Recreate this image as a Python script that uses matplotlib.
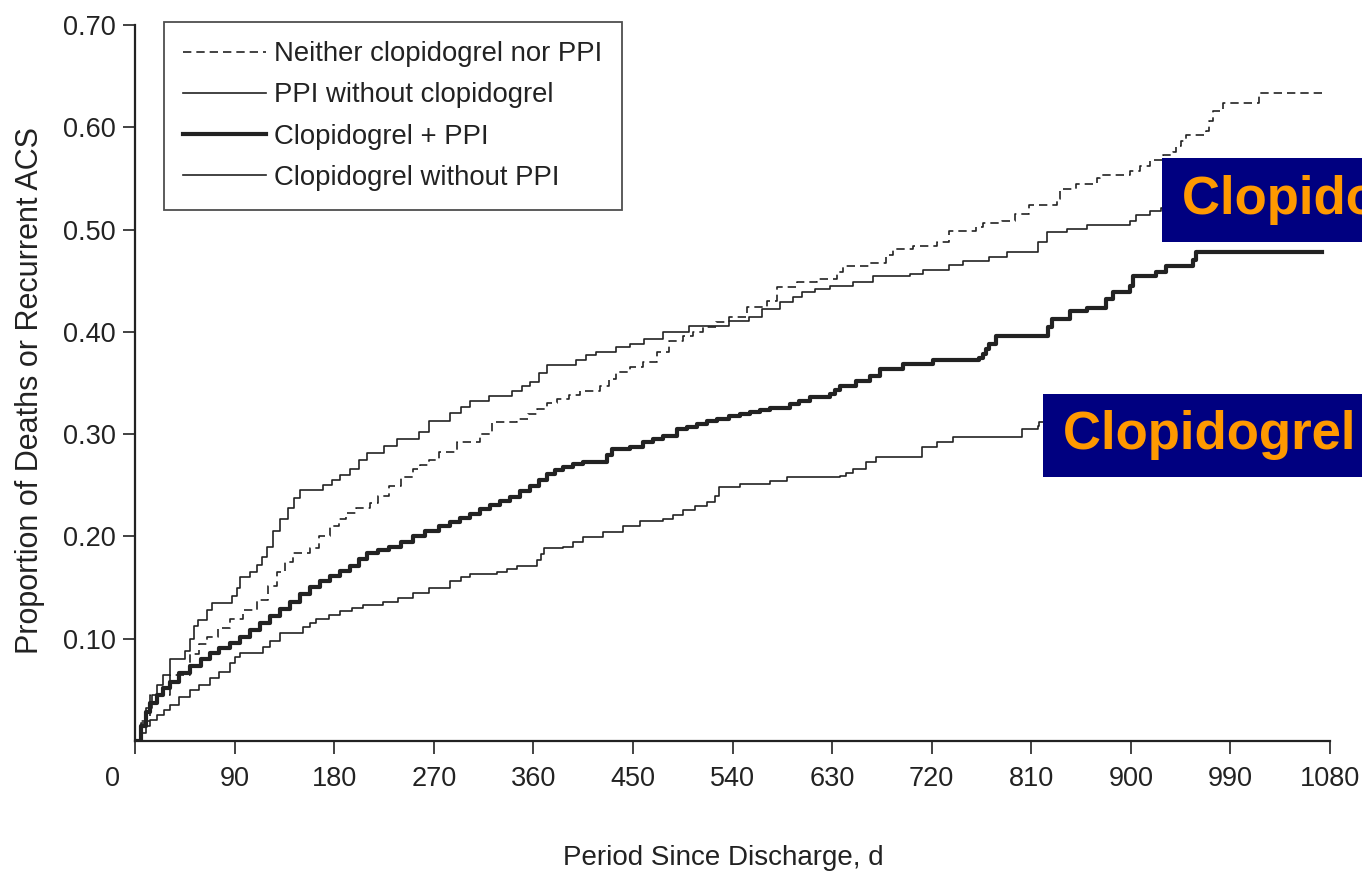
import matplotlib
matplotlib.use("Agg")
import matplotlib.pyplot as plt
from matplotlib.patches import Rectangle
from matplotlib.transforms import ScaledTranslation

# --- data (day, cumulative proportion) ---
neither_days = [0, 5, 14, 32, 50, 58, 65, 75, 86, 98, 110, 120, 128, 136, 143, 158, 166,
                176, 184, 191, 200, 212, 220, 230, 240, 251, 258, 266, 275, 291, 312, 323,
                345, 355, 363, 372, 381, 392, 402, 420, 428, 435, 447, 459, 472, 483, 495,
                504, 513, 525, 537, 553, 571, 580, 598, 616, 634, 640, 664, 679, 685, 703,
                725, 736, 760, 766, 784, 795, 808, 833, 836, 850, 869, 872, 899, 908, 917,
                929, 938, 941, 945, 950, 968, 971, 974, 983, 1016, 1077]
neither_vals = [0, 0.02, 0.045, 0.065, 0.085, 0.095, 0.102, 0.11, 0.119, 0.128, 0.138, 0.152,
                0.165, 0.175, 0.184, 0.189, 0.2, 0.21, 0.217, 0.223, 0.228, 0.233, 0.24, 0.249,
                0.258, 0.266, 0.27, 0.275, 0.283, 0.292, 0.30, 0.312, 0.315, 0.32, 0.325, 0.33,
                0.334, 0.338, 0.342, 0.347, 0.354, 0.361, 0.366, 0.371, 0.38, 0.391, 0.396,
                0.40, 0.405, 0.41, 0.415, 0.424, 0.43, 0.444, 0.449, 0.452, 0.459, 0.464,
                0.467, 0.475, 0.481, 0.484, 0.488, 0.499, 0.503, 0.506, 0.508, 0.515, 0.524,
                0.53, 0.54, 0.545, 0.55, 0.553, 0.557, 0.562, 0.568, 0.573, 0.576, 0.582,
                0.587, 0.592, 0.596, 0.606, 0.616, 0.624, 0.634, 0.634]

ppi_days = [0, 5, 10, 15, 20, 25, 32, 45, 50, 53, 57, 65, 70, 88, 92, 95, 104, 110, 115,
            119, 125, 131, 138, 144, 149, 170, 178, 185, 194, 202, 210, 225, 237, 257, 266,
            285, 295, 303, 320, 341, 350, 357, 365, 372, 399, 408, 417, 435, 447, 460, 477,
            501, 537, 555, 567, 583, 595, 603, 615, 628, 649, 667, 700, 712, 736, 748, 772,
            788, 816, 824, 842, 860, 899, 905, 917, 927, 1000]
ppi_vals = [0, 0.018, 0.032, 0.045, 0.055, 0.065, 0.08, 0.088, 0.10, 0.112, 0.118, 0.128,
            0.135, 0.142, 0.15, 0.16, 0.165, 0.172, 0.18, 0.19, 0.205, 0.217, 0.228, 0.238,
            0.245, 0.25, 0.255, 0.26, 0.266, 0.275, 0.282, 0.288, 0.295, 0.302, 0.313, 0.321,
            0.327, 0.332, 0.337, 0.342, 0.347, 0.351, 0.36, 0.368, 0.372, 0.377, 0.38, 0.385,
            0.388, 0.393, 0.40, 0.406, 0.411, 0.415, 0.422, 0.429, 0.434, 0.439, 0.442,
            0.445, 0.449, 0.455, 0.457, 0.46, 0.465, 0.469, 0.473, 0.478, 0.488, 0.498,
            0.501, 0.504, 0.508, 0.514, 0.518, 0.521, 0.521]

clop_ppi_days = [0, 5, 10, 14, 20, 25, 32, 40, 50, 60, 68, 76, 86, 95, 104, 113, 122, 131,
                 140, 149, 158, 167, 176, 185, 194, 202, 210, 220, 230, 240, 251, 262, 275,
                 285, 294, 303, 312, 321, 330, 339, 348, 357, 365, 372, 380, 387, 396, 405,
                 427, 431, 447, 459, 468, 477, 490, 499, 508, 517, 526, 537, 547, 556, 565,
                 574, 592, 600, 610, 628, 633, 637, 652, 664, 673, 694, 721, 763, 766, 769,
                 772, 778, 825, 829, 845, 860, 878, 884, 899, 902, 923, 932, 956, 959, 1073]
clop_ppi_vals = [0, 0.015, 0.028, 0.037, 0.045, 0.052, 0.058, 0.066, 0.073, 0.08, 0.086,
                 0.091, 0.096, 0.102, 0.109, 0.115, 0.122, 0.129, 0.136, 0.144, 0.151, 0.156,
                 0.161, 0.166, 0.171, 0.178, 0.184, 0.187, 0.19, 0.195, 0.20, 0.205, 0.21,
                 0.214, 0.218, 0.222, 0.227, 0.231, 0.235, 0.239, 0.244, 0.249, 0.255, 0.261,
                 0.265, 0.268, 0.271, 0.273, 0.28, 0.285, 0.287, 0.292, 0.295, 0.298, 0.305,
                 0.307, 0.31, 0.313, 0.315, 0.318, 0.32, 0.322, 0.324, 0.326, 0.329, 0.332,
                 0.336, 0.339, 0.343, 0.347, 0.352, 0.357, 0.364, 0.369, 0.372, 0.374, 0.378,
                 0.383, 0.388, 0.396, 0.405, 0.413, 0.42, 0.423, 0.432, 0.439, 0.445, 0.455,
                 0.459, 0.464, 0.47, 0.478, 0.478]

clop_days = [0, 5, 10, 14, 20, 26, 32, 40, 50, 58, 68, 76, 86, 90, 95, 116, 122, 131, 152,
             158, 164, 175, 185, 196, 206, 224, 238, 251, 266, 285, 295, 303, 327, 336, 345,
             363, 367, 370, 387, 396, 405, 423, 441, 456, 477, 486, 495, 506, 517, 524, 528,
             547, 574, 589, 637, 643, 649, 661, 670, 706, 711, 725, 739, 802, 816, 817, 900]
clop_vals = [0, 0.008, 0.015, 0.021, 0.025, 0.03, 0.035, 0.043, 0.05, 0.055, 0.062, 0.067,
             0.076, 0.082, 0.086, 0.092, 0.098, 0.106, 0.111, 0.115, 0.119, 0.123, 0.127,
             0.13, 0.133, 0.136, 0.14, 0.145, 0.15, 0.156, 0.16, 0.163, 0.165, 0.168, 0.171,
             0.177, 0.183, 0.189, 0.19, 0.195, 0.199, 0.204, 0.21, 0.215, 0.217, 0.221,
             0.226, 0.23, 0.234, 0.24, 0.248, 0.251, 0.254, 0.258, 0.259, 0.262, 0.266,
             0.273, 0.278, 0.278, 0.287, 0.292, 0.297, 0.305, 0.308, 0.312, 0.312]

labels = ["Neither clopidogrel nor PPI", "PPI without clopidogrel",
          "Clopidogrel + PPI", "Clopidogrel without PPI"]
x_ticks = list(range(0, 1081, 90))
y_ticks = [0.10, 0.20, 0.30, 0.40, 0.50, 0.60, 0.70]
banners = ["Clopidogrel + PPI", "Clopidogrel without PPI"]

SANS = ["Liberation Sans", "DejaVu Sans"]
W, H = 1362, 876
TXT = "#222222"

fig = plt.figure(figsize=(W / 100, H / 100), dpi=100)
ax = fig.add_axes([135 / W, 1 - 741 / H, (1330 - 135) / W, (741 - 25) / H])

ax.step(neither_days, neither_vals, where="post", color="#222222", lw=1.2,
        linestyle=(0, (5, 3)), label=labels[0])
ax.step(ppi_days, ppi_vals, where="post", color="#222222", lw=1.2, label=labels[1])
ax.step(clop_ppi_days, clop_ppi_vals, where="post", color="#222222", lw=3.0, label=labels[2])
ax.step(clop_days, clop_vals, where="post", color="#222222", lw=1.2, label=labels[3])

ax.set_xlim(0, 1080)
ax.set_ylim(0, 0.70)
ax.set_xticks(x_ticks)
ax.set_xticklabels([str(t) for t in x_ticks])
ax.set_yticks(y_ticks)
ax.set_yticklabels(["%.2f" % t for t in y_ticks])
for s in ["top", "right"]:
    ax.spines[s].set_visible(False)
for s in ["left", "bottom"]:
    ax.spines[s].set_linewidth(1.6)
    ax.spines[s].set_color("#222222")
ax.tick_params(axis="both", direction="out", length=9, width=1.2, color="#222222",
               labelsize=19.5, labelcolor=TXT, pad=5)
ax.tick_params(axis="x", pad=9)
for lab in ax.get_xticklabels() + ax.get_yticklabels():
    lab.set_family(SANS)
# the "0" label sits left of its tick in the reference
ax.get_xticklabels()[0].set_transform(
    ax.get_xticklabels()[0].get_transform() + ScaledTranslation(-0.22, 0, fig.dpi_scale_trans))

leg = ax.legend(loc="upper left", bbox_to_anchor=(164 / W, 1 - 22 / H),
                bbox_transform=fig.transFigure, frameon=True, fancybox=False,
                prop={"family": SANS, "size": 19.8}, handlelength=3.0,
                labelspacing=0.55, borderpad=0.7, handletextpad=0.3, borderaxespad=0)
leg.get_frame().set_edgecolor("#222222")
leg.get_frame().set_linewidth(1.3)
for t in leg.get_texts():
    t.set_color(TXT)

fig.text(30 / W, 1 - 390 / H, "Proportion of Deaths or Recurrent ACS", rotation=90,
         ha="center", va="center", family=SANS, size=22, color=TXT)
fig.text(723 / W, 1 - 858 / H, "Period Since Discharge, d", ha="center", va="center",
         family=SANS, size=20, color=TXT)

# navy overlay banners, cut by the right edge as in the reference
boxes = [(1162, 158, 1362, 242), (1043, 394, 1362, 477)]
for (x0, y0, x1, y1), txt in zip(boxes, banners):
    rect = Rectangle((x0 / W, 1 - y1 / H), (x1 - x0) / W, (y1 - y0) / H,
                     transform=fig.transFigure, facecolor="#000080", edgecolor="none")
    fig.patches.append(rect)
    t = fig.text((x0 + 20) / W, 1 - (y0 + y1) / 2 / H, txt, ha="left", va="center",
                 family=SANS, weight="bold", size=38, color="#FF9900")
    t.set_clip_box(rect.get_window_extent(fig.canvas.get_renderer()))

fig.savefig("out.png", dpi=100)
